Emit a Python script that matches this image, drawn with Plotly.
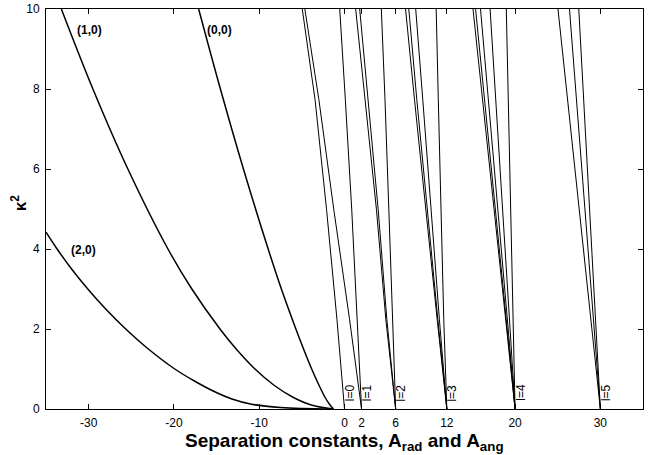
import plotly.graph_objects as go

# ---------------- data ----------------
# Radial separation constants A_rad versus kappa^2, labelled (n,m)
rad_labels = ["(0,0)", "(1,0)", "(2,0)"]
rad00_k2 = [10, 8, 6, 4, 3, 2, 1.5, 1, 0.6, 0.3, 0.1, 0]
rad00_A = [-17.1, -14.55, -11.85, -8.95, -7.4, -5.7, -4.8, -3.85, -3.0, -2.3, -1.7, -1.3]
rad10_k2 = [10, 8, 6, 4, 3, 2, 1.5, 1, 0.6, 0.3, 0.1, 0]
rad10_A = [-33.2, -29.5, -25.4, -20.7, -17.9, -14.6, -12.7, -10.5, -8.3, -6.1, -3.9, -1.3]
rad20_k2 = [4.42, 4, 3.5, 3, 2.5, 2, 1.5, 1, 0.7, 0.45, 0.25, 0.12, 0.04, 0]
rad20_A = [-35.0, -33.7, -32.0, -30.1, -28.0, -25.65, -23.0, -19.9, -17.6, -15.4, -13.2, -10.9, -7.5, -1.3]

# Angular separation constants A_ang versus kappa^2, grouped by l
l_values = [0, 1, 2, 3, 4, 5]
l_start = [0, 2, 6, 12, 20, 30]          # A_ang at kappa^2 = 0, i.e. l(l+1)

ang_k2_5pt = [0, 2.23, 4.98, 7.73, 10]
ang_l0 = [[0, -0.88, -2.10, -3.45, -4.95]]
ang_l1 = [[2, 0.60, -1.25, -3.00, -4.65],
          [2, 1.50, 0.85, 0.10, -0.56]]
ang_l2 = [[6, 4.85, 3.75, 2.45, 1.31],
          [6, 4.97, 3.95, 2.75, 1.78],
          [6, 5.67, 5.20, 4.75, 4.32]]
ang_k2_4pt = [0, 2.23, 7.73, 10]
ang_l3 = [[12, 10.87, 8.21, 7.16],
          [12, 10.95, 8.48, 7.54],
          [12, 11.13, 9.18, 8.35],
          [12, 11.64, 11.00, 10.75]]
ang_k2_2pt = [0, 10]
ang_l4 = [[20, 15.07], [20, 15.37], [20, 15.95], [20, 17.07], [20, 18.97]]
ang_l5 = [[30, 25.03], [30, 26.38], [30, 27.47]]

x_tickvals = [-30, -20, -10, 0, 2, 6, 12, 20, 30]
y_tickvals = [0, 2, 4, 6, 8, 10]

# ---------------- figure ----------------
FONT = "Liberation Sans, Arial, Helvetica, sans-serif"
fig = go.Figure()

for k2, A in [(rad00_k2, rad00_A), (rad10_k2, rad10_A), (rad20_k2, rad20_A)]:
    fig.add_trace(go.Scatter(x=A, y=k2, mode="lines",
                             line=dict(color="black", width=1.5, shape="spline", smoothing=1.0),
                             showlegend=False, hoverinfo="skip"))

for k2, group in [(ang_k2_5pt, ang_l0), (ang_k2_5pt, ang_l1), (ang_k2_5pt, ang_l2),
                  (ang_k2_4pt, ang_l3), (ang_k2_2pt, ang_l4), (ang_k2_2pt, ang_l5)]:
    for A in group:
        fig.add_trace(go.Scatter(x=A, y=k2, mode="lines",
                                 line=dict(color="black", width=1),
                                 showlegend=False, hoverinfo="skip"))

annotations = []
for l, a0 in zip(l_values, l_start):
    annotations.append(dict(x=a0 + 0.6, y=0.41, xref="x", yref="y",
                            text=f"l={l}", textangle=-90, showarrow=False,
                            font=dict(family=FONT, size=12, color="black"),
                            xanchor="center", yanchor="middle"))

rad_label_pos = [(-14.65, 9.47), (-29.9, 9.47), (-30.6, 3.97)]
for txt, (xa, ya) in zip(rad_labels, rad_label_pos):
    annotations.append(dict(x=xa, y=ya, xref="x", yref="y", text=f"<b>{txt}</b>",
                            showarrow=False, font=dict(family=FONT, size=12, color="black"),
                            xanchor="center", yanchor="middle"))

annotations.append(dict(x=0.5, y=-0.082, xref="paper", yref="paper",
                        text="<b>Separation constants, A<sub>rad</sub> and A<sub>ang</sub></b>",
                        showarrow=False, font=dict(family=FONT, size=19, color="black"),
                        xanchor="center", yanchor="middle"))
annotations.append(dict(x=-0.045, y=0.515, xref="paper", yref="paper",
                        text="<b>κ<sup>2</sup></b>", textangle=-90,
                        showarrow=False, font=dict(family=FONT, size=17, color="black"),
                        xanchor="center", yanchor="middle"))

fig.update_layout(
    width=649, height=455,
    margin=dict(l=46, r=6, t=9, b=46, pad=0),
    paper_bgcolor="white", plot_bgcolor="white",
    font=dict(family=FONT, size=12, color="black"),
    annotations=annotations,
    xaxis=dict(range=[-35, 35], tickvals=x_tickvals, ticktext=[str(v) for v in x_tickvals],
               showgrid=False, zeroline=False, showline=True, linecolor="black", linewidth=1,
               mirror="ticks", ticks="inside", ticklen=5, tickcolor="black", tickwidth=1,
               ticklabelstandoff=3,
               tickfont=dict(family=FONT, size=12, color="black"), automargin=False),
    yaxis=dict(range=[0, 10], tickvals=y_tickvals,
               showgrid=False, zeroline=True, zerolinecolor="black", zerolinewidth=2,
               showline=True, linecolor="black", linewidth=1,
               mirror="ticks", ticks="inside", ticklen=5, tickcolor="black", tickwidth=1,
               ticklabelstandoff=3,
               tickfont=dict(family=FONT, size=12, color="black"), automargin=False),
)

fig.write_html("out.html", config={"displayModeBar": False},
               post_script="document.body.style.margin='0';document.body.style.overflow='hidden';")
